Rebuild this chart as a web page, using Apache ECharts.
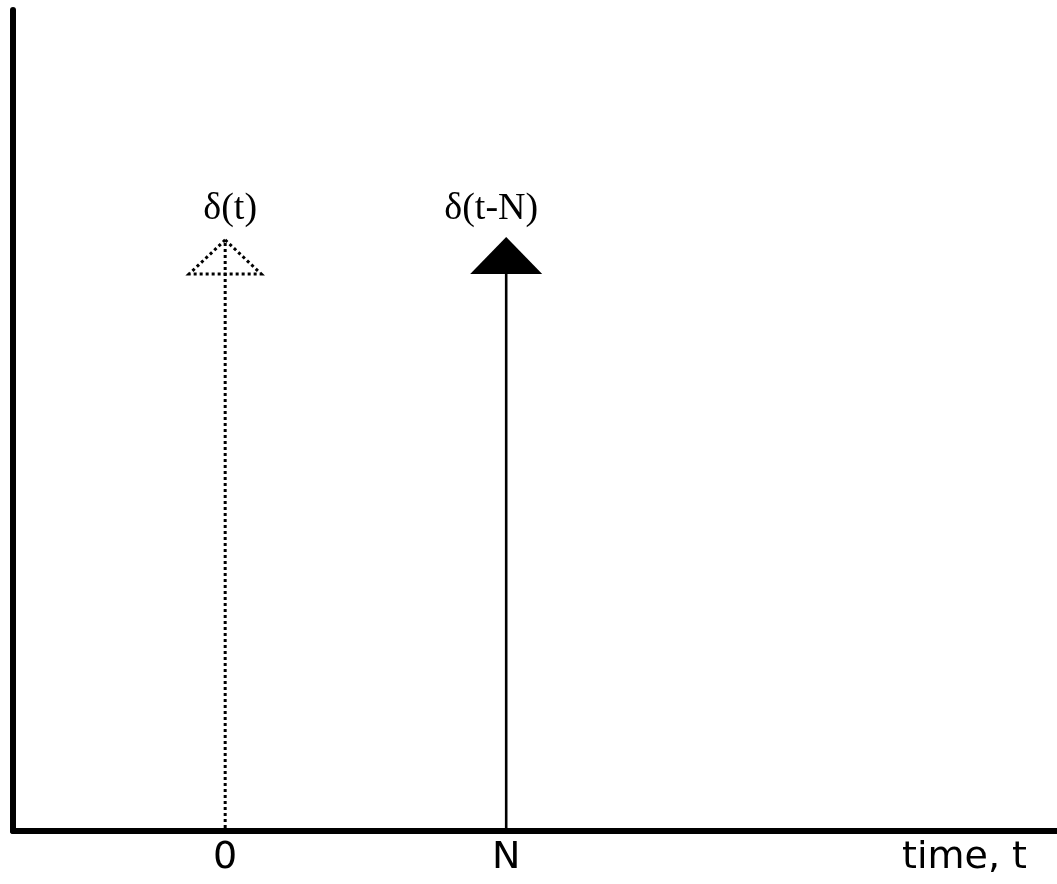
<!DOCTYPE html>
<html>
<head>
<meta charset="utf-8">
<style>
  html, body { margin: 0; padding: 0; background: #fff; }
  #chart { width: 1057px; height: 884px; }
</style>
<script src="https://cdn.jsdelivr.net/npm/echarts@6/dist/echarts.min.js"></script>
</head>
<body>
<div id="chart"></div>
<script>
// Data
const impulseTimes = [0, 1];          // t = 0 and t = N (N taken as 1 unit)
const impulseAmplitudes = [1, 1];
const impulseLabels = ['δ(t)', 'δ(t-N)'];
const impulseStyles = ['dotted', 'solid'];
const tickValues = [0, 1];
const tickLabels = ['0', 'N'];
const axisTitle = 'time, t';

const chart = echarts.init(document.getElementById('chart'));

const impulseData = impulseTimes.map((t, i) => [t, impulseAmplitudes[i], i]);

function renderImpulse(params, api) {
  const i = api.value(2);
  const base = api.coord([api.value(0), 0]);
  const tip = api.coord([api.value(0), api.value(1)]);
  const dotted = impulseStyles[i] === 'dotted';
  const headH = dotted ? 34 : 37;
  const headW = 36;
  const apexY = dotted ? tip[1] : tip[1] - 3;
  const children = [];
  children.push({
    type: 'line',
    shape: { x1: base[0], y1: base[1] - 3, x2: tip[0], y2: dotted ? tip[1] : tip[1] + 10 },
    style: { stroke: '#000', lineWidth: dotted ? 3 : 2.6, lineDash: dotted ? [3, 3] : null }
  });
  children.push({
    type: 'polygon',
    shape: { points: [[tip[0], apexY], [tip[0] - headW, apexY + headH], [tip[0] + headW, apexY + headH]] },
    style: dotted
      ? { fill: null, stroke: '#000', lineWidth: 3, lineDash: [3, 3] }
      : { fill: '#000', stroke: null }
  });
  children.push({
    type: 'text',
    x: tip[0] + (dotted ? 5 : -15),
    y: tip[1] - 31,
    style: {
      text: impulseLabels[i],
      fill: '#000',
      font: '38px "Liberation Serif", "DejaVu Serif", serif',
      align: 'center',
      verticalAlign: 'middle'
    }
  });
  return { type: 'group', children };
}

chart.setOption({
  animation: false,
  backgroundColor: '#fff',
  grid: { left: 13, right: 0, top: 10, bottom: 53, containLabel: false },
  xAxis: {
    type: 'value',
    min: -0.755,
    max: 2.96,
    splitLine: { show: false },
    axisTick: { show: false },
    axisLine: { show: true, onZero: false, lineStyle: { color: '#000', width: 6 } },
    axisLabel: {
      customValues: tickValues,
      formatter: (v) => tickLabels[tickValues.indexOf(v)] ?? '',
      color: '#000',
      fontSize: 38,
      fontFamily: '"DejaVu Sans", sans-serif',
      margin: 8,
      showMinLabel: true,
      showMaxLabel: true
    }
  },
  yAxis: {
    type: 'value',
    min: 0,
    max: 1.389,
    splitLine: { show: false },
    axisTick: { show: false },
    axisLabel: { show: false },
    axisLine: { show: true, onZero: false, lineStyle: { color: '#000', width: 6 } }
  },
  graphic: [{
    type: 'text',
    right: 30,
    top: 839,
    style: {
      text: axisTitle,
      fill: '#000',
      font: '38px "DejaVu Sans", sans-serif'
    }
  }],
  series: [{
    type: 'custom',
    renderItem: renderImpulse,
    data: impulseData,
    clip: false,
    silent: true
  }]
});
</script>
</body>
</html>
